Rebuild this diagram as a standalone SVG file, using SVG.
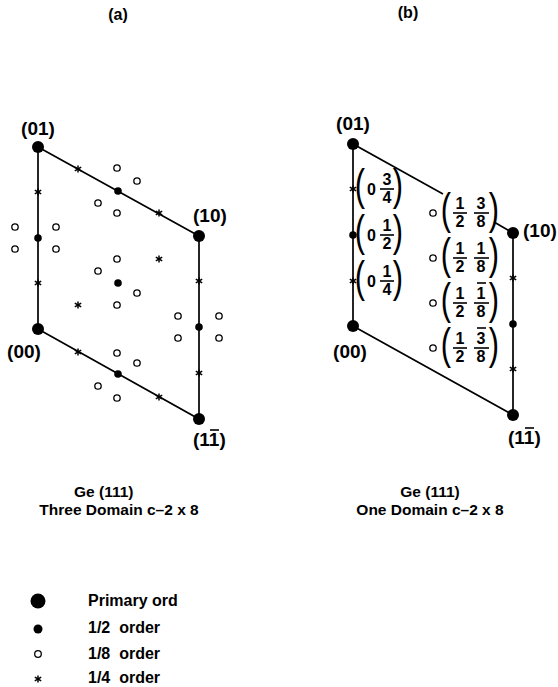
<svg xmlns="http://www.w3.org/2000/svg" xmlns:xlink="http://www.w3.org/1999/xlink" width="558" height="687" viewBox="0 0 558 687">
<style>
  text { font-family: "Liberation Sans", Arial, sans-serif; font-weight: bold; fill: #000; }
  .lbl { font-size: 19px; }
  .ttl { font-size: 16px; }
  .cap { font-size: 15.5px; }
  .leg { font-size: 16px; white-space: pre; }
  .fr { font-size: 16px; text-anchor: middle; }
  .par { font-size: 44px; font-weight: normal; text-anchor: middle; }
  .edge { stroke: #000; stroke-width: 1.7; fill: none; }
  .bar { stroke: #000; stroke-width: 1.6; }
  .open { fill: #fff; stroke: #000; stroke-width: 1.3; }
</style>
<defs>
  <circle id="big" r="6" fill="#000"/>
  <circle id="half" r="3.8" fill="#000"/>
  <circle id="oc" r="3.2" class="open"/>
  <g id="st" stroke="#000" stroke-width="1.5">
    <line x1="0" y1="-3.6" x2="0" y2="3.6"/>
    <line x1="-3.2" y1="-1.9" x2="3.2" y2="1.9"/>
    <line x1="-3.2" y1="1.9" x2="3.2" y2="-1.9"/>
  </g>
</defs>
<rect width="558" height="687" fill="#fff"/>

<g id="titles">
  <text class="ttl" x="118" y="20" text-anchor="middle">(a)</text>
  <text class="ttl" x="408" y="18" text-anchor="middle">(b)</text>
</g>

<g id="connectors">
  <polygon class="edge" points="38,147 199,236 199,419 38,329"/>
  <polyline class="edge" points="443,194 353,144 353,326 513,415 513,233 494,222"/>
</g>

<g id="panel-a-spots">
  <use href="#big" x="38" y="147"/>
  <use href="#big" x="199" y="236"/>
  <use href="#big" x="199" y="419"/>
  <use href="#big" x="38" y="329"/>
  <use href="#half" x="38" y="238"/>
  <use href="#half" x="118" y="191"/>
  <use href="#half" x="199" y="327"/>
  <use href="#half" x="118" y="374"/>
  <use href="#half" x="118" y="283"/>
  <use href="#st" x="38" y="192"/>
  <use href="#st" x="38" y="283"/>
  <use href="#st" x="78" y="169"/>
  <use href="#st" x="159" y="213"/>
  <use href="#st" x="199" y="281"/>
  <use href="#st" x="199" y="373"/>
  <use href="#st" x="78" y="352"/>
  <use href="#st" x="159" y="397"/>
  <use href="#st" x="78" y="305"/>
  <use href="#st" x="159" y="259"/>
  <use href="#oc" x="117" y="168"/>
  <use href="#oc" x="137" y="181"/>
  <use href="#oc" x="98" y="203"/>
  <use href="#oc" x="117" y="213"/>
  <use href="#oc" x="117" y="259"/>
  <use href="#oc" x="98" y="271"/>
  <use href="#oc" x="137" y="293"/>
  <use href="#oc" x="117" y="305"/>
  <use href="#oc" x="15" y="227"/>
  <use href="#oc" x="56" y="227"/>
  <use href="#oc" x="15" y="249"/>
  <use href="#oc" x="56" y="249"/>
  <use href="#oc" x="178" y="316"/>
  <use href="#oc" x="219" y="316"/>
  <use href="#oc" x="178" y="338"/>
  <use href="#oc" x="219" y="338"/>
  <use href="#oc" x="117" y="353"/>
  <use href="#oc" x="137" y="363"/>
  <use href="#oc" x="98" y="386"/>
  <use href="#oc" x="117" y="398"/>
</g>

<g id="panel-a-labels">
  <text class="lbl" x="38" y="135" text-anchor="middle">(01)</text>
  <text class="lbl" x="193" y="222">(10)</text>
  <text class="lbl" x="24" y="358" text-anchor="middle">(00)</text>
  <text class="lbl" x="193" y="446">(11)</text>
  <line class="bar" x1="210" y1="430" x2="219" y2="430"/>
</g>

<g id="panel-b-spots">
  <use href="#big" x="353" y="144"/>
  <use href="#big" x="513" y="233"/>
  <use href="#big" x="353" y="326"/>
  <use href="#big" x="513" y="415"/>
  <use href="#half" x="353" y="235"/>
  <use href="#half" x="513" y="324"/>
  <use href="#st" x="353" y="189"/>
  <use href="#st" x="353" y="281"/>
  <use href="#st" x="513" y="278"/>
  <use href="#st" x="513" y="369"/>
  <use href="#oc" x="433" y="213"/>
  <use href="#oc" x="433" y="258"/>
  <use href="#oc" x="433" y="303"/>
  <use href="#oc" x="433" y="348"/>
</g>

<g id="panel-b-labels">
  <text class="lbl" x="353" y="130" text-anchor="middle">(01)</text>
  <text class="lbl" x="523" y="237">(10)</text>
  <text class="lbl" x="350" y="358" text-anchor="middle">(00)</text>
  <text class="lbl" x="508" y="444">(11)</text>
  <line class="bar" x1="525" y1="428" x2="534" y2="428"/>
</g>

<g id="label-0-34">
  <text class="par" transform="translate(360,200) scale(0.7,1)">(</text>
  <text class="fr" x="371.5" y="195">0</text>
  <text class="fr" x="387" y="185">3</text>
  <line class="bar" x1="380" y1="189" x2="394" y2="189"/>
  <text class="fr" x="387" y="203">4</text>
  <text class="par" transform="translate(398,200) scale(0.7,1)">)</text>
</g>
<g id="label-0-12">
  <text class="par" transform="translate(360,246) scale(0.7,1)">(</text>
  <text class="fr" x="371.5" y="241">0</text>
  <text class="fr" x="387" y="231">1</text>
  <line class="bar" x1="380" y1="235" x2="394" y2="235"/>
  <text class="fr" x="387" y="249">2</text>
  <text class="par" transform="translate(398,246) scale(0.7,1)">)</text>
</g>
<g id="label-0-14">
  <text class="par" transform="translate(360,292) scale(0.7,1)">(</text>
  <text class="fr" x="371.5" y="287">0</text>
  <text class="fr" x="387" y="277">1</text>
  <line class="bar" x1="380" y1="281" x2="394" y2="281"/>
  <text class="fr" x="387" y="295">4</text>
  <text class="par" transform="translate(398,292) scale(0.7,1)">)</text>
</g>

<g id="label-12-38">
  <text class="par" transform="translate(446,224) scale(0.7,1)">(</text>
  <text class="fr" x="460" y="209">1</text>
  <line class="bar" x1="453" y1="213" x2="467" y2="213"/>
  <text class="fr" x="460" y="227">2</text>
  <text class="fr" x="481" y="209">3</text>
  <line class="bar" x1="474" y1="213" x2="489" y2="213"/>
  <text class="fr" x="481" y="227">8</text>
  <text class="par" transform="translate(494,224) scale(0.7,1)">)</text>
</g>
<g id="label-12-18">
  <text class="par" transform="translate(446,269) scale(0.7,1)">(</text>
  <text class="fr" x="460" y="254">1</text>
  <line class="bar" x1="453" y1="258" x2="467" y2="258"/>
  <text class="fr" x="460" y="272">2</text>
  <text class="fr" x="481" y="254">1</text>
  <line class="bar" x1="474" y1="258" x2="489" y2="258"/>
  <text class="fr" x="481" y="272">8</text>
  <text class="par" transform="translate(494,269) scale(0.7,1)">)</text>
</g>
<g id="label-12-m18">
  <text class="par" transform="translate(446,314) scale(0.7,1)">(</text>
  <text class="fr" x="460" y="299">1</text>
  <line class="bar" x1="453" y1="303" x2="467" y2="303"/>
  <text class="fr" x="460" y="317">2</text>
  <line class="bar" x1="477" y1="283" x2="486" y2="283"/>
  <text class="fr" x="481" y="299">1</text>
  <line class="bar" x1="474" y1="303" x2="489" y2="303"/>
  <text class="fr" x="481" y="317">8</text>
  <text class="par" transform="translate(494,314) scale(0.7,1)">)</text>
</g>
<g id="label-12-m38">
  <text class="par" transform="translate(446,359) scale(0.7,1)">(</text>
  <text class="fr" x="460" y="344">1</text>
  <line class="bar" x1="453" y1="348" x2="467" y2="348"/>
  <text class="fr" x="460" y="362">2</text>
  <line class="bar" x1="477" y1="328" x2="486" y2="328"/>
  <text class="fr" x="481" y="344">3</text>
  <line class="bar" x1="474" y1="348" x2="489" y2="348"/>
  <text class="fr" x="481" y="362">8</text>
  <text class="par" transform="translate(494,359) scale(0.7,1)">)</text>
</g>

<g id="captions">
  <text class="cap" x="74" y="497">Ge (111)</text>
  <text class="cap" x="119" y="515" text-anchor="middle">Three Domain c–2 x 8</text>
  <text class="cap" x="430" y="497" text-anchor="middle">Ge (111)</text>
  <text class="cap" x="430" y="515" text-anchor="middle">One Domain c–2 x 8</text>
</g>

<g id="legend">
  <circle cx="38" cy="601" r="7.5" fill="#000"/>
  <text class="leg" x="88" y="606">Primary ord</text>
  <circle cx="38" cy="629" r="4.5" fill="#000"/>
  <text class="leg" x="88" y="633">1/2  order</text>
  <circle cx="38" cy="654" r="3.3" class="open"/>
  <text class="leg" x="88" y="659">1/8  order</text>
  <use href="#st" x="38" y="679"/>
  <text class="leg" x="88" y="683">1/4  order</text>
</g>
</svg>
